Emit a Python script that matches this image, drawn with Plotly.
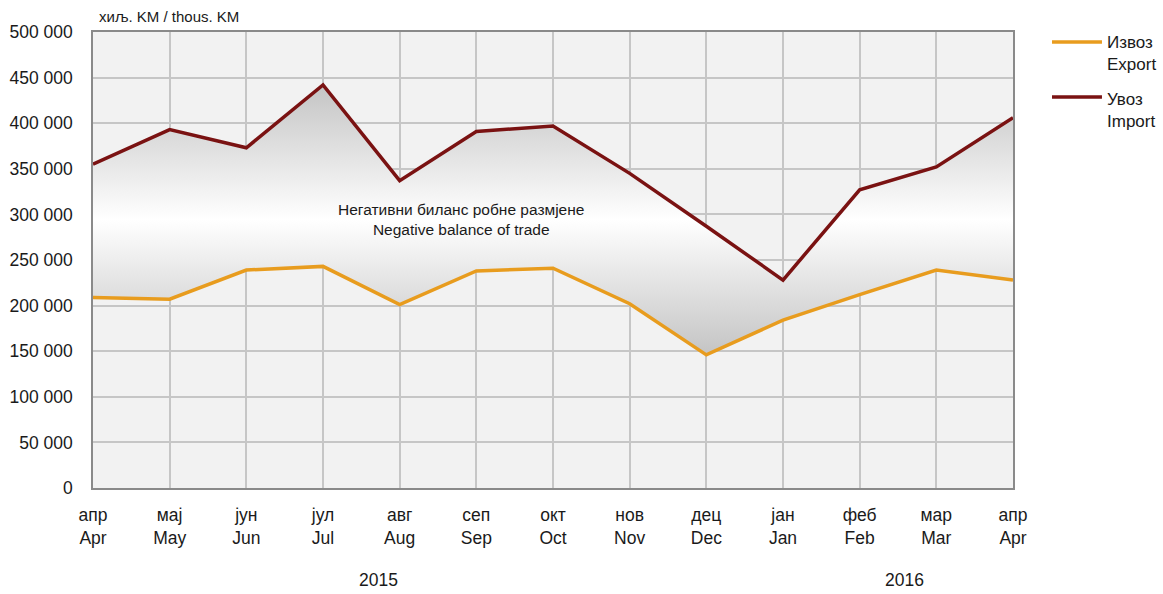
import plotly.graph_objects as go

months_sr = ["апр", "мај", "јун", "јул", "авг", "сеп", "окт", "нов", "дец", "јан", "феб", "мар", "апр"]
months_en = ["Apr", "May", "Jun", "Jul", "Aug", "Sep", "Oct", "Nov", "Dec", "Jan", "Feb", "Mar", "Apr"]
export_vals = [209000, 207000, 239000, 243000, 201000, 238000, 241000, 202000, 146000, 184000, 212000, 239000, 228000]
import_vals = [355000, 393000, 373000, 442000, 337000, 391000, 397000, 345000, 287000, 228000, 327000, 352000, 406000]
y_ticks = [0, 50000, 100000, 150000, 200000, 250000, 300000, 350000, 400000, 450000, 500000]
y_ticktext = ["0", "50 000", "100 000", "150 000", "200 000", "250 000", "300 000", "350 000", "400 000", "450 000", "500 000"]
years = ["2015", "2016"]
series_names = [("Извоз", "Export"), ("Увоз", "Import")]
series_colors = ["#E89C1E", "#7A1212"]

x = list(range(len(months_en)))
tick_labels = [f"{s}<br>{e}" for s, e in zip(months_sr, months_en)]

FONT = "Liberation Sans, Arial, sans-serif"
TXT = "#1a1a1a"

fig = go.Figure()
fig.add_trace(go.Scatter(
    x=x, y=export_vals, mode="lines", name="Извоз / Export", showlegend=False,
    line=dict(color=series_colors[0], width=3.5),
))
fig.add_trace(go.Scatter(
    x=x, y=import_vals, mode="lines", name="Увоз / Import", showlegend=False,
    line=dict(color=series_colors[1], width=3.5),
    fill="tonexty",
    fillgradient=dict(type="vertical",
                      colorscale=[[0, "#c4c4c4"], [0.5, "#ffffff"], [1, "#c4c4c4"]]),
))

fig.update_layout(
    width=1163, height=594,
    margin=dict(l=93, r=150, t=32, b=106, autoexpand=False),
    paper_bgcolor="white",
    plot_bgcolor="#f2f2f2",
    font=dict(family=FONT, size=17.5, color=TXT),
    showlegend=False,
    xaxis=dict(
        range=[0, len(x) - 1], tickmode="array", tickvals=x, ticktext=tick_labels,
        showgrid=True, gridcolor="#c6c6c6", gridwidth=1.5,
        showline=True, mirror=True, linecolor="#8a8a8a", linewidth=1.5,
        ticks="", zeroline=False, tickfont=dict(size=17.5, color=TXT),
        ticklabelstandoff=10,
    ),
    yaxis=dict(
        range=[0, 500000], tickmode="array", tickvals=y_ticks, ticktext=y_ticktext,
        showgrid=True, gridcolor="#c6c6c6", gridwidth=1.5,
        showline=True, mirror=True, linecolor="#8a8a8a", linewidth=1.5,
        ticks="", zeroline=False, tickfont=dict(size=17.5, color=TXT),
        ticklabelstandoff=15,
    ),
)

# manual legend (long line keys as in the reference)
leg_line_y = [0.978, 0.8575]
leg_text_y = [0.9518, 0.8289]
for i in range(2):
    fig.add_shape(type="line", xref="paper", yref="paper",
                  x0=1.0424, x1=1.0967, y0=leg_line_y[i], y1=leg_line_y[i],
                  line=dict(color=series_colors[i], width=3.5))
    fig.add_annotation(text=f"{series_names[i][0]}<br>{series_names[i][1]}",
                       xref="paper", yref="paper", x=1.1, y=leg_text_y[i],
                       xanchor="left", yanchor="middle", align="left",
                       showarrow=False, font=dict(size=17, color=TXT))

fig.add_annotation(text="хиљ. KM / thous. KM", xref="paper", yref="paper",
                   x=0.0043, y=1.0329, xanchor="left", yanchor="middle",
                   showarrow=False, font=dict(size=15, color=TXT))
fig.add_annotation(text="Негативни биланс робне размјене<br>Negative balance of trade",
                   xref="x", yref="y", x=4.806, y=294000, showarrow=False,
                   font=dict(size=15.5, color=TXT), align="center")
fig.add_annotation(text=years[0], xref="x", yref="paper", x=3.73, y=-0.2018,
                   yanchor="middle", showarrow=False, font=dict(size=17.5, color=TXT))
fig.add_annotation(text=years[1], xref="x", yref="paper", x=10.59, y=-0.2018,
                   yanchor="middle", showarrow=False, font=dict(size=17.5, color=TXT))

fig.write_html("out.html", config={"displayModeBar": False},
               post_script="document.body.style.margin='0';document.body.style.overflow='hidden';")
